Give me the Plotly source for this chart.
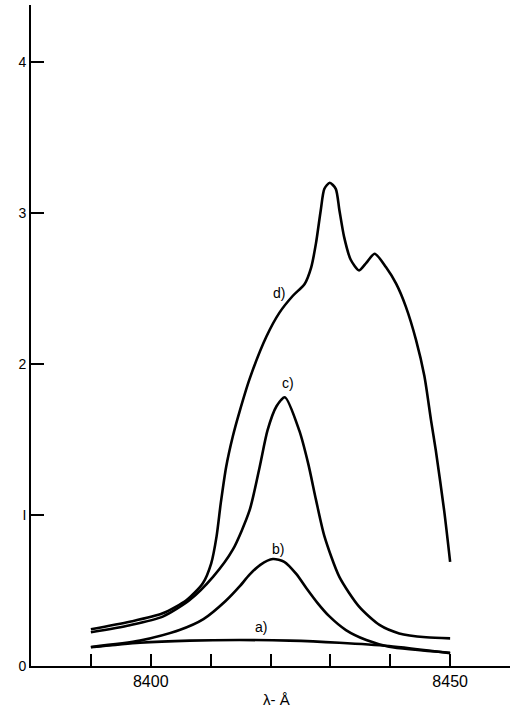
import plotly.graph_objects as go

# curva a)
wl_a = [8390, 8398.2, 8406.5, 8414.8, 8423.2, 8431.5, 8439.8, 8450]
int_a = [0.124, 0.154, 0.168, 0.172, 0.168, 0.154, 0.132, 0.084]

# curva b)
wl_b = [8390, 8398.2, 8404.8, 8408.8, 8412.5, 8414.8, 8416.5, 8418.3, 8420.4, 8422.3,
        8424.3, 8426, 8427.8, 8429.8, 8432.6, 8436, 8439.8, 8450]
int_b = [0.126, 0.168, 0.238, 0.31, 0.43, 0.525, 0.605, 0.67, 0.708, 0.69,
         0.61, 0.515, 0.42, 0.33, 0.238, 0.172, 0.128, 0.088]

# curva c)
wl_c = [8390, 8396.5, 8402, 8406.5, 8410.4, 8413.7, 8416.5, 8418.2, 8419.5, 8421,
        8422.4, 8424.8, 8426.3, 8427.6, 8429, 8431.5, 8434.8, 8438.2, 8441.5, 8446, 8450]
int_c = [0.223, 0.27, 0.327, 0.437, 0.59, 0.77, 1.03, 1.32, 1.56, 1.72,
         1.78, 1.56, 1.34, 1.10, 0.86, 0.59, 0.393, 0.272, 0.216, 0.19, 0.183]

# curva d)
wl_d = [8390, 8396.5, 8402, 8406, 8408.7, 8410.1, 8411, 8411.7, 8412.6, 8413.7,
        8414.8, 8416.5, 8419.3, 8421.5, 8423.7, 8425.7, 8426.8, 8427.6, 8428.4, 8429,
        8429.9, 8430.9, 8431.5, 8432.3, 8433.4, 8434.8, 8436, 8437.4, 8439.3, 8441,
        8442.6, 8444.3, 8445.7, 8446.8, 8447.6, 8449, 8450]
int_d = [0.243, 0.293, 0.349, 0.437, 0.548, 0.68, 0.86, 1.08, 1.32, 1.52,
         1.68, 1.90, 2.18, 2.34, 2.45, 2.53, 2.64, 2.80, 3.02, 3.16,
         3.20, 3.16, 3.02, 2.84, 2.69, 2.62, 2.67, 2.73, 2.64, 2.53,
         2.38, 2.16, 1.92, 1.63, 1.43, 1.03, 0.69]

labels = ["a)", "b)", "c)", "d)"]
label_x = [8418.4, 8421.2, 8422.9, 8421.5]
label_y = [0.256, 0.775, 1.876, 2.47]

x_ticks = [8390, 8400, 8410, 8420, 8430, 8440, 8450]
x_text = ["", "8400", "", "", "", "", "8450"]
y_ticks = [0, 1, 2, 3, 4]
y_text = ["0", "I", "2", "3", "4"]

fig = go.Figure()
for wl, val in [(wl_a, int_a), (wl_b, int_b), (wl_c, int_c), (wl_d, int_d)]:
    fig.add_trace(go.Scatter(x=wl, y=val, mode="lines",
                             line=dict(color="black", width=2.6, shape="spline", smoothing=0.7),
                             showlegend=False, hoverinfo="skip"))

for t, lx, ly in zip(labels, label_x, label_y):
    fig.add_annotation(x=lx, y=ly, text=t, showarrow=False,
                       font=dict(size=14, color="black", family="Liberation Sans"))

fig.add_annotation(x=8421, y=-0.066, xref="x", yref="paper", text="λ- Å", showarrow=False,
                   font=dict(size=15, color="black", family="Liberation Sans"))

fig.update_layout(
    width=510, height=712,
    margin=dict(l=31, r=0, t=5, b=46),
    paper_bgcolor="white", plot_bgcolor="white",
    font=dict(family="Liberation Sans", color="black", size=15),
)
fig.update_xaxes(range=[8380, 8460], showgrid=False, zeroline=False, automargin=False,
                 showline=True, linecolor="black", linewidth=1.8,
                 tickvals=x_ticks, ticktext=x_text, ticks="inside", ticklen=12,
                 tickwidth=1.5, tickcolor="black", tickfont=dict(size=16))
fig.update_yaxes(range=[0, 4.377], showgrid=False, zeroline=False, automargin=False,
                 showline=True, linecolor="black", linewidth=1.8,
                 tickvals=y_ticks, ticktext=y_text, ticks="inside", ticklen=13,
                 tickwidth=1.5, tickcolor="black", tickfont=dict(size=14))

# quitar el margen del body para que la figura quede en 0,0
fig.write_html("out.html", config={"displayModeBar": False},
               post_script="document.body.style.margin='0';")
